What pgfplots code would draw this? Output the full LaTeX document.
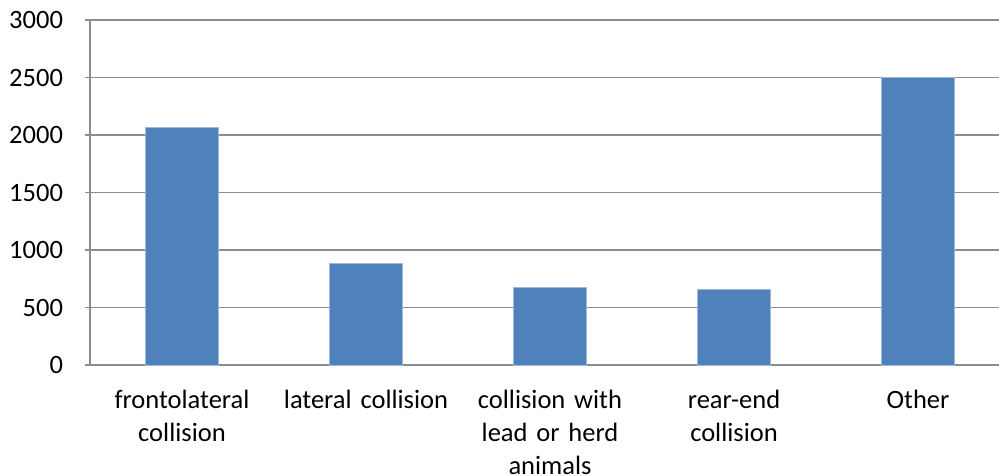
\documentclass[border=0pt]{standalone}
\usepackage{pgfplots}
\pgfplotsset{compat=1.18}
\usepackage{fontspec}
\setmainfont{Carlito}
\definecolor{barblue}{HTML}{4F81BD}
\definecolor{gridgray}{HTML}{8C8C8C}
\begin{document}
\begin{tikzpicture}[x=1pt,y=1pt]
\begin{axis}[
  scale only axis,
  width=909pt, height=345pt,
  at={(0,0)}, anchor=south west,
  xmin=-0.5, xmax=4.44,
  ymin=0, ymax=3000,
  ytick={0,500,...,3000},
  xtick=data,
  xticklabels={{frontolateral\\collision},{lateral collision},{collision with\\lead or herd\\animals},{rear-end\\collision},{Other}},
  x tick label style={align=center, text width=175pt, font=\fontsize{26.5}{33}\selectfont, yshift=-17pt},
  y tick label style={font=\fontsize{26.5}{32}\selectfont, xshift=-19pt},
  /pgf/number format/assume math mode=true,
  /pgf/number format/1000 sep={},
  major x tick style={draw=none},
  ytick style={draw=gridgray, line width=1.2pt},
  major tick length=9pt,
  tick align=outside,
  ymajorgrids,
  grid style={draw=gridgray, line width=1.2pt},
  axis x line=bottom, axis y line=left,
  axis line style={-, draw=gridgray, line width=1.5pt},
  clip=false,
]
\addplot[ybar, bar width=73pt, fill=barblue, draw=barblue!55!white, line width=0.6pt]
  coordinates {(0,2067) (1,881) (2,677) (3,657) (4,2503)};
\end{axis}
\pgfresetboundingbox
\path[use as bounding box] (-90pt,-110pt) rectangle (909pt,365pt);
\end{tikzpicture}
\end{document}
